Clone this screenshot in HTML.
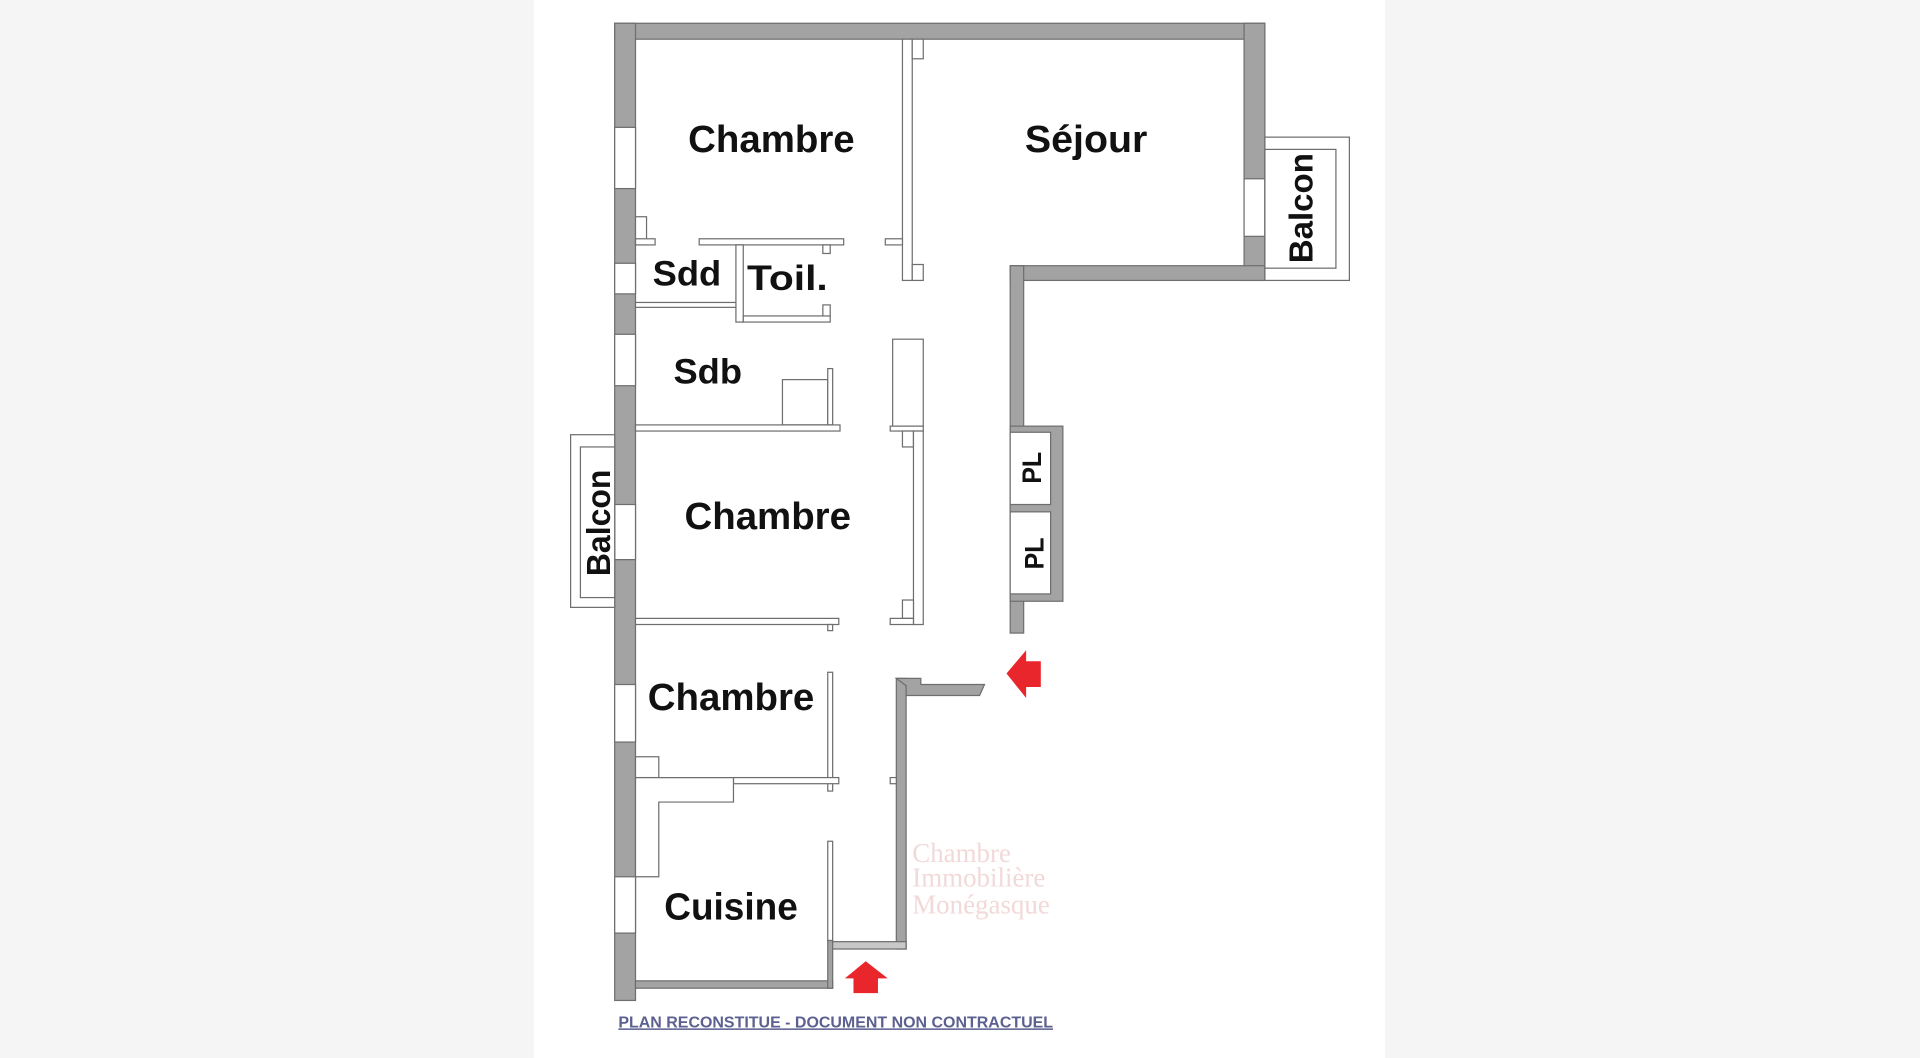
<!DOCTYPE html>
<html><head><meta charset="utf-8"><style>
html,body{margin:0;padding:0;background:#f5f5f5;}
svg{display:block;}
</style></head><body>
<svg width="1920" height="1058" viewBox="0 0 1568 864" preserveAspectRatio="none" xmlns="http://www.w3.org/2000/svg">
<rect x="0" y="0" width="1568" height="864" fill="#f5f5f5"/>
<rect x="436" y="0" width="695" height="864" fill="#ffffff"/>
<g fill="#a3a3a3" stroke="#6e6e6e" stroke-width="1">
<rect x="502" y="19" width="531" height="13"/>
<rect x="502" y="19" width="17" height="798"/>
<rect x="1016" y="19" width="17" height="210"/>
<rect x="825" y="217" width="208" height="12"/>
<rect x="825" y="217" width="11" height="300"/>
<rect x="825" y="348" width="43" height="143"/>
<rect x="732" y="554" width="8" height="221"/>
<path d="M732 554 H752 V559 H804 L800 568 H740 V560 Z"/>
<rect x="519" y="801" width="161" height="6"/>
<rect x="676" y="768" width="4" height="39"/>
<rect x="680" y="769" width="60" height="6" fill="#c8c8c8"/>
</g>
<g fill="#ffffff" stroke="#6e6e6e" stroke-width="1">
<rect x="825" y="353" width="33" height="59"/>
<rect x="825" y="418" width="33" height="67"/>
<rect x="502" y="104" width="17" height="50"/>
<rect x="502" y="215" width="17" height="25"/>
<rect x="502" y="273" width="17" height="42"/>
<rect x="502" y="412" width="17" height="45"/>
<rect x="502" y="559" width="17" height="47"/>
<rect x="502" y="716" width="17" height="46"/>
<rect x="1016" y="146" width="17" height="47"/>
<rect x="1033" y="112" width="69" height="117"/>
<rect x="1033" y="122" width="58" height="97"/>
<rect x="466" y="355" width="36" height="141"/>
<rect x="474" y="365" width="28" height="123"/>
<rect x="737" y="32" width="8" height="197"/>
<rect x="745" y="32" width="9" height="16"/>
<rect x="723" y="195" width="14" height="5"/>
<rect x="745" y="216" width="9" height="13"/>
<rect x="571" y="195" width="118" height="5"/>
<rect x="601" y="200" width="6" height="63"/>
<rect x="607" y="258" width="71" height="5"/>
<rect x="672" y="249" width="6" height="9"/>
<rect x="672" y="200" width="6" height="7"/>
<rect x="519" y="247" width="82" height="4"/>
<rect x="519" y="177" width="9" height="23"/>
<rect x="519" y="195" width="16" height="5"/>
<rect x="729" y="277" width="25" height="71"/>
<rect x="639" y="310" width="37" height="37"/>
<rect x="676" y="301" width="4" height="46"/>
<rect x="519" y="347" width="167" height="5"/>
<rect x="727" y="348" width="27" height="4"/>
<rect x="737" y="352" width="9" height="13"/>
<rect x="746" y="352" width="8" height="158"/>
<rect x="737" y="490" width="9" height="15"/>
<rect x="727" y="505" width="19" height="5"/>
<rect x="519" y="505" width="166" height="5"/>
<rect x="676" y="510" width="4" height="5"/>
<rect x="676" y="549" width="4" height="97"/>
<rect x="599" y="635" width="86" height="5"/>
<rect x="519" y="618" width="19" height="17"/>
<path d="M519 635 H599 V655 H538 V716 H519 Z"/>
<rect x="676" y="687" width="4" height="81"/>
<rect x="727" y="635" width="5" height="5"/>
</g>
<g fill="#e8262b">
<path d="M822 550 L838 531 L838 540 L850 540 L850 561 L838 561 L838 570 Z"/>
<path d="M707 785 L725 799 L717 799 L717 811 L697 811 L697 799 L690 799 Z"/>
</g>
<g font-family="'Liberation Sans',sans-serif" font-weight="bold" fill="#111">
<text x="630" y="124" font-size="31" text-anchor="middle" textLength="136" lengthAdjust="spacingAndGlyphs">Chambre</text>
<text x="887" y="124" font-size="31" text-anchor="middle" textLength="100" lengthAdjust="spacingAndGlyphs">Séjour</text>
<text x="561" y="233" font-size="29" text-anchor="middle" textLength="56" lengthAdjust="spacingAndGlyphs">Sdd</text>
<text x="643" y="237" font-size="29" text-anchor="middle" textLength="66" lengthAdjust="spacingAndGlyphs">Toil.</text>
<text x="578" y="313" font-size="29" text-anchor="middle" textLength="56" lengthAdjust="spacingAndGlyphs">Sdb</text>
<text x="627" y="432" font-size="31" text-anchor="middle" textLength="136" lengthAdjust="spacingAndGlyphs">Chambre</text>
<text x="597" y="580" font-size="31" text-anchor="middle" textLength="136" lengthAdjust="spacingAndGlyphs">Chambre</text>
<text x="597" y="751" font-size="31" text-anchor="middle" textLength="109" lengthAdjust="spacingAndGlyphs">Cuisine</text>
<text transform="translate(1072,170) rotate(-90)" font-size="27" text-anchor="middle" textLength="90" lengthAdjust="spacingAndGlyphs">Balcon</text>
<text transform="translate(498,427) rotate(-90)" font-size="27" text-anchor="middle" textLength="87" lengthAdjust="spacingAndGlyphs">Balcon</text>
<text transform="translate(850,382) rotate(-90)" font-size="22" text-anchor="middle" textLength="26" lengthAdjust="spacingAndGlyphs">PL</text>
<text transform="translate(852,452) rotate(-90)" font-size="22" text-anchor="middle" textLength="26" lengthAdjust="spacingAndGlyphs">PL</text>
</g>
<g font-family="'Liberation Serif',serif" fill="#f2d9d9" font-size="22">
<text x="745" y="704">Chambre</text>
<text x="745" y="724">Immobilière</text>
<text x="745" y="746">Monégasque</text>
</g>
<text x="505" y="839" font-family="'Liberation Sans',sans-serif" font-weight="bold" font-size="12.5" fill="#5c6090" text-decoration="underline" textLength="355" lengthAdjust="spacingAndGlyphs">PLAN RECONSTITUE - DOCUMENT NON CONTRACTUEL</text>
</svg>
</body></html>
